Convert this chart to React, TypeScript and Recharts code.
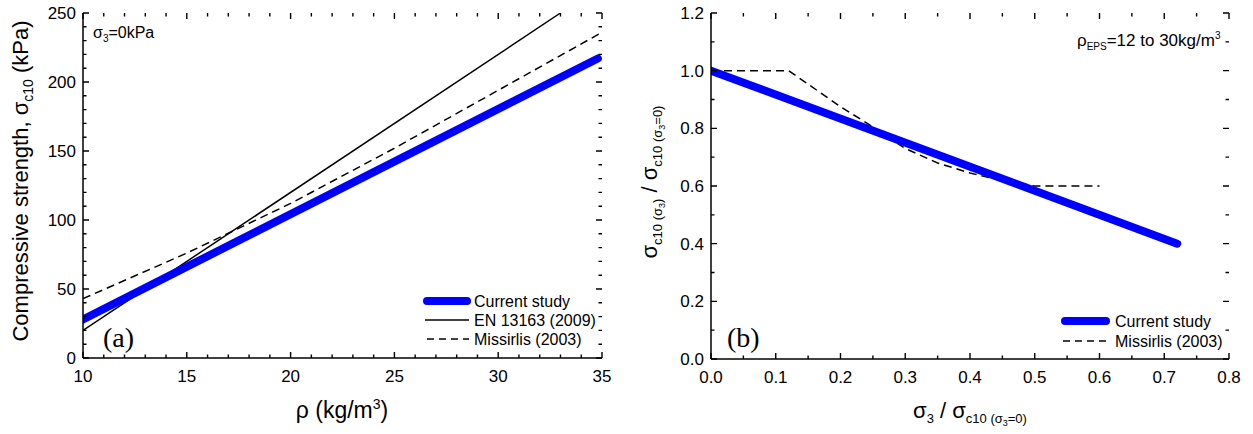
import React from "react";
import { ComposedChart, Line, XAxis, YAxis } from "recharts";

// (a) compressive strength vs density
const rhoCurrent = [10, 34.8];
const sigCurrent = [28, 217];
const rhoEN = [10, 33];
const sigEN = [20, 250];
const rhoMiss = [10, 15, 20, 25, 30, 35];
const sigMiss = [43, 76, 112, 152, 194, 236];

// (b) normalised strength vs normalised confining stress
const ratioXCurrent = [0, 0.72];
const ratioYCurrent = [1.0, 0.4];
const ratioXMiss = [0, 0.12, 0.2, 0.25, 0.3, 0.35, 0.4, 0.45, 0.5, 0.6];
const ratioYMiss = [1.0, 1.0, 0.875, 0.805, 0.73, 0.68, 0.645, 0.618, 0.6, 0.6];

// tick labels
const rhoTicks = [10, 15, 20, 25, 30, 35];
const sigTicks = [0, 50, 100, 150, 200, 250];
const ratioXTicks = [0, 0.1, 0.2, 0.3, 0.4, 0.5, 0.6, 0.7, 0.8];
const ratioYTicks = [0, 0.2, 0.4, 0.6, 0.8, 1.0, 1.2];

const zip = (xs: number[], ys: number[]) => xs.map((x, i) => ({ x, y: ys[i] }));

// split every major interval into n parts for the minor ticks
const withMinor = (majors: number[], n: number) => {
  const out: number[] = [];
  for (let i = 0; i < majors.length - 1; i++) {
    const step = (majors[i + 1] - majors[i]) / n;
    for (let k = 0; k < n; k++) out.push(+(majors[i] + k * step).toFixed(6));
  }
  out.push(majors[majors.length - 1]);
  return out;
};

const isMajor = (majors: number[], v: number) => majors.some((m) => Math.abs(m - v) < 1e-6);

const FONT = "'Liberation Sans', Arial, sans-serif";
const TICK_FONT = 17;
const TOP = 13;
const H = 434;

const labelTick = (side: string, fmt: (v: number) => string, majors: number[]) => (p: any) => {
  const v = p.payload.value;
  if (!isMajor(majors, v)) return <g />;
  const x = Number(p.x);
  const y = Number(p.y);
  if (side === "bottom")
    return (
      <text x={x} y={y + 24} textAnchor="middle" fontFamily={FONT} fontSize={TICK_FONT} fill="#000">
        {fmt(v)}
      </text>
    );
  return (
    <text x={x - 7} y={y + 6} textAnchor="end" fontFamily={FONT} fontSize={TICK_FONT} fill="#000">
      {fmt(v)}
    </text>
  );
};

const axisLine = { stroke: "#000", strokeWidth: 1.5 };

type PanelProps = {
  left: number;
  width: number;
  marginRight: number;
  xHeight: number;
  yWidth: number;
  xDomain: [number, number];
  yDomain: [number, number];
  xMajor: number[];
  yMajor: number[];
  xSplit: number;
  ySplit: number;
  fmt: (v: number) => string;
  children?: React.ReactNode;
};

// inward frame ticks (all four sides), placed on the same plot box the chart uses
function FrameTicks(props: PanelProps) {
  const { xDomain, yDomain, xMajor, yMajor } = props;
  const x0 = props.left + props.yWidth;
  const x1 = props.left + props.width - props.marginRight;
  const y0 = TOP;
  const y1 = H - props.xHeight;
  const sx = (v: number) => x0 + ((v - xDomain[0]) / (xDomain[1] - xDomain[0])) * (x1 - x0);
  const sy = (v: number) => y1 - ((v - yDomain[0]) / (yDomain[1] - yDomain[0])) * (y1 - y0);
  const xs = withMinor(xMajor, props.xSplit);
  const ys = withMinor(yMajor, props.ySplit);
  const d: string[] = [];
  xs.forEach((v) => {
    const len = isMajor(xMajor, v) ? 6 : 3.5;
    const x = sx(v);
    d.push(`M${x},${y1}V${y1 - len}`, `M${x},${y0}V${y0 + len}`);
  });
  ys.forEach((v) => {
    const len = isMajor(yMajor, v) ? 6 : 3.5;
    const y = sy(v);
    d.push(`M${x0},${y}H${x0 + len}`, `M${x1},${y}H${x1 - len}`);
  });
  return <path d={d.join("")} stroke="#000" strokeWidth={1.4} fill="none" />;
}

function Panel(props: PanelProps) {
  const { xDomain, yDomain, xMajor, yMajor, fmt } = props;
  const xAll = withMinor(xMajor, props.xSplit);
  const yAll = withMinor(yMajor, props.ySplit);
  return (
    <ComposedChart
      width={props.width}
      height={H}
      margin={{ top: TOP, right: props.marginRight, left: 0, bottom: 0 }}
      style={{ position: "absolute", left: props.left, top: 0 }}
    >
      <XAxis
        dataKey="x"
        type="number"
        domain={xDomain}
        allowDataOverflow
        ticks={xAll}
        interval={0}
        height={props.xHeight}
        tickSize={0}
        tickMargin={0}
        tickLine={false}
        axisLine={axisLine}
        tick={labelTick("bottom", fmt, xMajor)}
      />
      <XAxis
        xAxisId="top"
        orientation="top"
        dataKey="x"
        type="number"
        domain={xDomain}
        height={0}
        tick={false}
        tickLine={false}
        axisLine={axisLine}
      />
      <YAxis
        type="number"
        domain={yDomain}
        allowDataOverflow
        ticks={yAll}
        interval={0}
        width={props.yWidth}
        tickSize={0}
        tickMargin={0}
        tickLine={false}
        axisLine={axisLine}
        tick={labelTick("left", fmt, yMajor)}
      />
      <YAxis
        yAxisId="right"
        orientation="right"
        type="number"
        domain={yDomain}
        width={0}
        tick={false}
        tickLine={false}
        axisLine={axisLine}
      />
      {props.children}
    </ComposedChart>
  );
}

const panelA: PanelProps = {
  left: 0,
  width: 620,
  marginRight: 18,
  xHeight: 76,
  yWidth: 83,
  xDomain: [10, 35],
  yDomain: [0, 250],
  xMajor: rhoTicks,
  yMajor: sigTicks,
  xSplit: 5,
  ySplit: 5,
  fmt: (v: number) => String(v),
};

const panelB: PanelProps = {
  left: 620,
  width: 633,
  marginRight: 24,
  xHeight: 75,
  yWidth: 91,
  xDomain: [0, 0.8],
  yDomain: [0, 1.2],
  xMajor: ratioXTicks,
  yMajor: ratioYTicks,
  xSplit: 2,
  ySplit: 2,
  fmt: (v: number) => v.toFixed(1),
};

export default function App() {
  return (
    <div style={{ position: "absolute", left: 0, top: 0, width: 1253, height: 434, background: "#fff" }}>
      <Panel {...panelA}>
        <Line
          data={zip(rhoMiss, sigMiss)}
          dataKey="y"
          type="linear"
          stroke="#000"
          strokeWidth={1.5}
          strokeDasharray="8 5"
          dot={false}
          isAnimationActive={false}
        />
        <Line
          data={zip(rhoEN, sigEN)}
          dataKey="y"
          type="linear"
          stroke="#000"
          strokeWidth={1.5}
          dot={false}
          isAnimationActive={false}
        />
        <Line
          data={zip(rhoCurrent, sigCurrent)}
          dataKey="y"
          type="linear"
          stroke="#0000ff"
          strokeWidth={8}
          strokeLinecap="round"
          dot={false}
          isAnimationActive={false}
        />
      </Panel>

      <Panel {...panelB}>
        <Line
          data={zip(ratioXMiss, ratioYMiss)}
          dataKey="y"
          type="linear"
          stroke="#000"
          strokeWidth={1.5}
          strokeDasharray="8 5"
          dot={false}
          isAnimationActive={false}
        />
        <Line
          data={zip(ratioXCurrent, ratioYCurrent)}
          dataKey="y"
          type="linear"
          stroke="#0000ff"
          strokeWidth={8}
          strokeLinecap="round"
          dot={false}
          isAnimationActive={false}
        />
      </Panel>

      {/* frame ticks, titles, annotations and legends */}
      <svg
        width={1253}
        height={434}
        style={{ position: "absolute", left: 0, top: 0, pointerEvents: "none" }}
        fontFamily={FONT}
        fill="#000"
      >
        <FrameTicks {...panelA} />
        <FrameTicks {...panelB} />

        {/* (a) axis titles */}
        <text transform="translate(28,181) rotate(-90)" textAnchor="middle" fontSize={22}>
          Compressive strength, σ
          <tspan fontSize={14} dy={5}>c10</tspan>
          <tspan dy={-5}> (kPa)</tspan>
        </text>
        <text x={342} y={418} textAnchor="middle" fontSize={23}>
          ρ (kg/m
          <tspan fontSize={14} dy={-9}>3</tspan>
          <tspan dy={9}>)</tspan>
        </text>
        <text x={93} y={38} fontSize={16}>
          σ<tspan fontSize={10} dy={4}>3</tspan>
          <tspan dy={-4}>=0kPa</tspan>
        </text>
        <text x={103} y={347} fontSize={28} fontFamily="'Liberation Serif', 'Times New Roman', serif">
          (a)
        </text>

        {/* (a) legend */}
        <line x1={427} x2={467} y1={301} y2={301} stroke="#0000ff" strokeWidth={8} strokeLinecap="round" />
        <text x={474} y={307} fontSize={16}>Current study</text>
        <line x1={425} x2={469} y1={320} y2={320} stroke="#000" strokeWidth={1.5} />
        <text x={474} y={326} fontSize={16}>EN 13163 (2009)</text>
        <line x1={427} x2={469} y1={339} y2={339} stroke="#000" strokeWidth={1.5} strokeDasharray="7 5" />
        <text x={474} y={345} fontSize={16}>Missirlis (2003)</text>

        {/* (b) axis titles */}
        <text transform="translate(657,182) rotate(-90)" textAnchor="middle" fontSize={22}>
          σ<tspan fontSize={13} dy={5}>c10 (σ</tspan>
          <tspan fontSize={9} dy={3}>3</tspan>
          <tspan fontSize={13} dy={-3}>)</tspan>
          <tspan dy={-5}> / σ</tspan>
          <tspan fontSize={13} dy={5}>c10 (σ</tspan>
          <tspan fontSize={9} dy={3}>3</tspan>
          <tspan fontSize={13} dy={-3}>=0)</tspan>
        </text>
        <text x={970} y={418} textAnchor="middle" fontSize={22}>
          σ<tspan fontSize={13} dy={5}>3</tspan>
          <tspan dy={-5}> / σ</tspan>
          <tspan fontSize={13} dy={5}>c10 (σ</tspan>
          <tspan fontSize={9} dy={3}>3</tspan>
          <tspan fontSize={13} dy={-3}>=0)</tspan>
        </text>
        <text x={1077} y={46} fontSize={17}>
          ρ<tspan fontSize={10} dy={4}>EPS</tspan>
          <tspan dy={-4}>=12 to 30kg/m</tspan>
          <tspan fontSize={10} dy={-7}>3</tspan>
        </text>
        <text x={727} y={347} fontSize={28} fontFamily="'Liberation Serif', 'Times New Roman', serif">
          (b)
        </text>

        {/* (b) legend */}
        <line x1={1065} x2={1106} y1={321} y2={321} stroke="#0000ff" strokeWidth={8} strokeLinecap="round" />
        <text x={1115} y={327} fontSize={16}>Current study</text>
        <line x1={1063} x2={1108} y1={341} y2={341} stroke="#000" strokeWidth={1.5} strokeDasharray="7 5" />
        <text x={1115} y={347} fontSize={16}>Missirlis (2003)</text>
      </svg>
    </div>
  );
}
